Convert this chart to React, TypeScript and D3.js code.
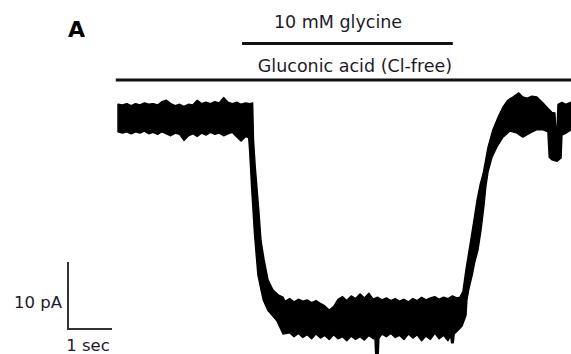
import React, { useEffect, useRef } from 'react';
import * as d3 from 'd3';

// outline of the current trace: [time (s), current (pA)]
// upper side runs left -> right
const upperEdge: [number, number][] = [
  [0, 1.9], [0.1, 1.8], [0.2, 2.0], [0.3, 1.7], [0.4, 2.0], [0.5, 1.8], [0.6, 2.1], [0.7, 1.9],
  [0.8, 2.0], [0.9, 1.8], [1.0, 2.3], [1.1, 2.5], [1.2, 2.0], [1.3, 1.7], [1.4, 1.9], [1.5, 1.6],
  [1.6, 1.9], [1.7, 1.8], [1.8, 2.5], [1.9, 2.0], [2.0, 2.2], [2.1, 2.0], [2.2, 2.3], [2.3, 2.1],
  [2.4, 2.9], [2.5, 2.2], [2.6, 2.0], [2.7, 2.2], [2.8, 1.9], [2.9, 2.1], [3.0, 2.0],
  [3.06, 2.1], [3.08, -3.4], [3.12, -7.5], [3.2, -13.9], [3.25, -18.4], [3.32, -21.3],
  [3.41, -24.3], [3.52, -25.8], [3.65, -26.6], [3.75, -26.9],
  [3.8, -27.5], [3.9, -27.1], [4.0, -27.6], [4.1, -27.2], [4.2, -27.5], [4.3, -27.3], [4.4, -27.7],
  [4.5, -27.4], [4.6, -27.8], [4.7, -28.2], [4.8, -28.8], [4.9, -28.3], [5.0, -27.2], [5.1, -26.8],
  [5.2, -27.4], [5.3, -26.7], [5.4, -27.1], [5.5, -26.4], [5.6, -27.0], [5.7, -26.3], [5.8, -27.2],
  [5.9, -26.9], [6.0, -27.3], [6.1, -27.0], [6.2, -27.4], [6.3, -27.1], [6.4, -27.5], [6.5, -27.2],
  [6.6, -27.6], [6.7, -27.1], [6.8, -27.4], [6.9, -26.9], [7.0, -27.3], [7.1, -27.0], [7.2, -26.8],
  [7.3, -27.2], [7.4, -26.9], [7.5, -27.1], [7.6, -26.7], [7.7, -27.0], [7.77, -26.9],
  [7.84, -26.0], [7.91, -22.7], [8.0, -19.1], [8.09, -15.4], [8.16, -12.4], [8.23, -10.1],
  [8.3, -8.4], [8.41, -4.5], [8.52, -1.9], [8.64, 0.0], [8.75, 1.5], [8.86, 2.5], [8.98, 3.0],
  [9.11, 3.6], [9.2, 3.0], [9.3, 2.8], [9.41, 3.1], [9.52, 3.0], [9.66, 2.1], [9.77, 1.3],
  [9.86, 0.7], [9.93, 0.6], [9.95, -1.6], [9.98, -1.6], [10.0, 1.9], [10.09, 2.2], [10.18, 1.9],
  [10.3, 2.2],
];

// lower side runs right -> left
const lowerEdge: [number, number][] = [
  [10.3, -1.9], [10.18, -2.4], [10.09, -2.7], [10.07, -6.1], [9.98, -6.6], [9.86, -6.4],
  [9.8, -6.0], [9.77, -2.2], [9.66, -1.9], [9.52, -1.9], [9.36, -2.4], [9.2, -3.0], [9.07, -2.4],
  [8.91, -2.1], [8.75, -3.0], [8.61, -4.5], [8.5, -6.0], [8.41, -8.2], [8.36, -10.4],
  [8.32, -13.1], [8.25, -16.9], [8.18, -19.9], [8.11, -21.6], [8.05, -23.6], [7.98, -25.5],
  [7.93, -27.3], [7.91, -29.6], [7.82, -31.2], [7.7, -32.0],
  [7.64, -32.4], [7.62, -33.7], [7.58, -33.7], [7.56, -32.6],
  [7.5, -33.4], [7.4, -32.6], [7.3, -33.1], [7.2, -32.3], [7.1, -33.2], [7.0, -32.7], [6.9, -33.4],
  [6.8, -32.5], [6.7, -33.0], [6.6, -32.4], [6.5, -33.2], [6.4, -32.6], [6.3, -32.9], [6.2, -32.3],
  [6.1, -32.8], [6.0, -32.4], [5.93, -33.0], [5.91, -36.0], [5.86, -36.0], [5.84, -33.0],
  [5.8, -33.1], [5.7, -32.6], [5.6, -33.3], [5.5, -32.8], [5.4, -33.2], [5.3, -32.7], [5.2, -33.4],
  [5.1, -32.8], [5.0, -33.1], [4.9, -32.5], [4.8, -33.2], [4.7, -32.6], [4.6, -33.0], [4.5, -32.4],
  [4.4, -33.1], [4.3, -32.5], [4.2, -32.9], [4.1, -32.3], [4.0, -32.8], [3.9, -32.2],
  [3.75, -32.4], [3.61, -30.4], [3.41, -28.9], [3.3, -27.3], [3.25, -25.8], [3.18, -23.6],
  [3.15, -21.3], [3.1, -17.3], [3.04, -10.9], [2.99, -4.9], [2.97, -3.1],
  [2.9, -2.9], [2.8, -3.6], [2.7, -3.0], [2.6, -2.3], [2.5, -2.5], [2.4, -2.8], [2.3, -2.4],
  [2.2, -2.6], [2.1, -2.3], [2.0, -2.7], [1.9, -2.4], [1.8, -2.9], [1.7, -2.5], [1.6, -2.8],
  [1.5, -3.5], [1.4, -2.6], [1.3, -2.4], [1.2, -2.8], [1.1, -2.5], [1.0, -2.2], [0.9, -2.6],
  [0.8, -2.3], [0.7, -2.5], [0.6, -2.1], [0.5, -2.4], [0.4, -2.2], [0.3, -2.5], [0.2, -2.2],
  [0.1, -2.4], [0, -2.2],
];

// solution application bars (s)
const barLabels = ['10 mM glycine', 'Gluconic acid (Cl-free)'];
const barStarts = [2.82, -0.05];
const barEnds = [7.61, 10.4];

const scaleCurrent = 10; // pA
const scaleTime = 1; // sec
const scaleLabels = ['10 pA', '1 sec'];
const panelLabel = 'A';

const App: React.FC = () => {
  const ref = useRef<SVGSVGElement>(null);

  useEffect(() => {
    const svg = d3.select(ref.current);
    svg.selectAll('*').remove();

    const x = d3.scaleLinear().domain([0, 10.3]).range([118, 571.2]);
    const y = d3.scaleLinear().domain([0, -30]).range([117, 318]);
    const font = "'DejaVu Sans', Verdana, sans-serif";

    svg.append('text')
      .attr('x', 68).attr('y', 37)
      .attr('font-family', font).attr('font-weight', 'bold').attr('font-size', 22)
      .attr('fill', '#000')
      .text(panelLabel);

    // application bars with labels
    const barY = [43.5, 80];
    const labelX = [338, 355];
    const labelY = [28, 72];
    barLabels.forEach((label, i) => {
      svg.append('line')
        .attr('x1', x(barStarts[i])).attr('x2', x(barEnds[i]))
        .attr('y1', barY[i]).attr('y2', barY[i])
        .attr('stroke', '#111').attr('stroke-width', 3);
      svg.append('text')
        .attr('x', labelX[i]).attr('y', labelY[i])
        .attr('text-anchor', 'middle')
        .attr('font-family', font).attr('font-size', 17.5)
        .attr('fill', '#1e1a2a')
        .text(label);
    });

    // trace
    const outline = upperEdge.concat(lowerEdge).map(([t, c]) => [x(t), y(c)] as [number, number]);
    svg.append('path')
      .attr('d', d3.line()(outline) + 'Z')
      .attr('fill', '#000')
      .attr('stroke', '#000')
      .attr('stroke-width', 1.4)
      .attr('stroke-linejoin', 'round');

    // scale bar
    const ox = 68, oy = 329;
    const barH = y(0) - y(scaleCurrent);
    const barW = x(scaleTime) - x(0);
    svg.append('path')
      .attr('d', `M${ox},${oy - barH}V${oy}H${ox + barW}`)
      .attr('fill', 'none').attr('stroke', '#333').attr('stroke-width', 2);
    svg.append('text')
      .attr('x', ox - 6).attr('y', 308)
      .attr('text-anchor', 'end')
      .attr('font-family', font).attr('font-size', 16.5).attr('fill', '#1e1a2a')
      .text(scaleLabels[0]);
    svg.append('text')
      .attr('x', ox + barW / 2 - 2).attr('y', 351)
      .attr('text-anchor', 'middle')
      .attr('font-family', font).attr('font-size', 16.5).attr('fill', '#1e1a2a')
      .text(scaleLabels[1]);
  }, []);

  return (
    <svg ref={ref} width={571} height={354}
      style={{ position: 'absolute', left: 0, top: 0, background: '#fff' }} />
  );
};

export default App;
